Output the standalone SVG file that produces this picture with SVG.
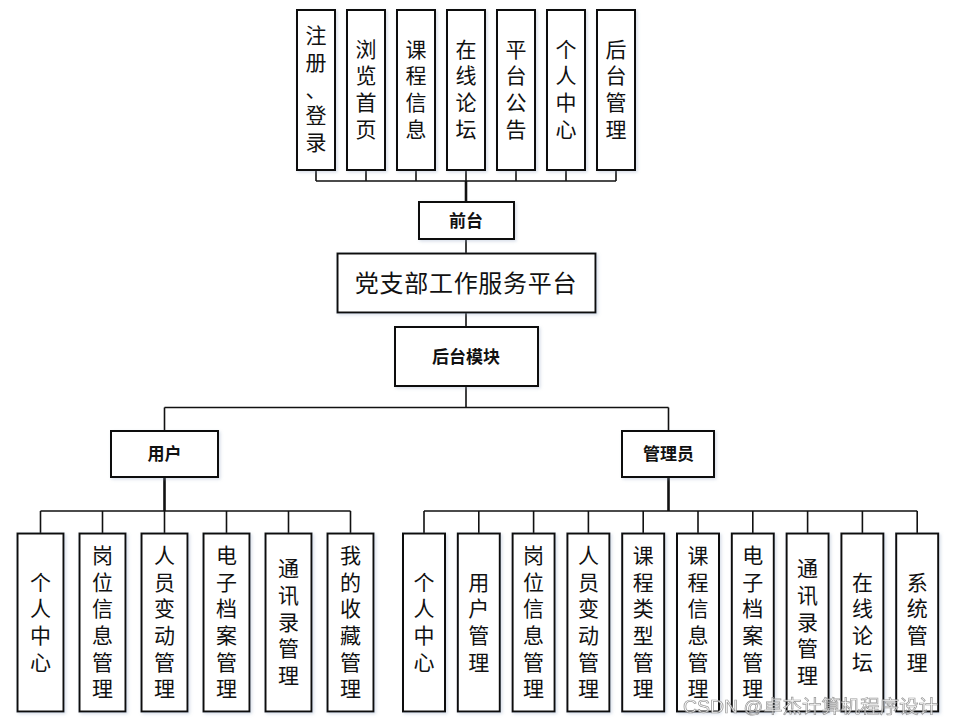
<svg xmlns="http://www.w3.org/2000/svg" width="954" height="724" viewBox="0 0 954 724">
<defs>
<filter id="sh" x="-20%" y="-20%" width="140%" height="140%">
<feDropShadow dx="1.5" dy="1.5" stdDeviation="1.5" flood-color="#8fa3c0" flood-opacity="0.35"/>
</filter>
</defs>
<style>
.box{fill:#fff;stroke:#111;stroke-width:2;filter:url(#sh)}
.ln{fill:none;stroke:#111;stroke-width:1.6}
.tk{fill:none;stroke:#111;stroke-width:2.6}
.t{font-family:"Noto Sans CJK SC","Noto Sans",sans-serif;font-size:21px;fill:#111;text-anchor:middle}
.h{font-family:"Noto Sans CJK SC","Noto Sans",sans-serif;font-size:17px;font-weight:bold;fill:#111;text-anchor:middle}
.m{font-family:"Noto Sans CJK SC","Noto Sans",sans-serif;font-size:24px;fill:#111;text-anchor:middle;letter-spacing:0.7px}
.wm{font-family:"Liberation Sans","Noto Sans CJK SC",sans-serif;font-size:18px;fill:#fff;stroke:#888;stroke-width:0.7;opacity:0.85}
</style>
<rect width="954" height="724" fill="#fff"/>
<g id="connectors">
<path class="ln" d="M316,170V181M366,170V181M416,170V181M466,170V181M516,170V181M566,170V181M616,170V181M316,181H616"/>
<path class="tk" d="M466,181V202"/>
<path class="ln" d="M466,239V253.5M466,312.5V327M466,386V407.5M164.5,407.5H668.5M164.5,407.5V431M668.5,407.5V431"/>
<path class="tk" d="M164.5,477V511M668.5,477V511"/>
<path class="ln" d="M40.5,511H350.5M40.5,511V533.5M102.5,511V533.5M164.5,511V533.5M226.5,511V533.5M288.5,511V533.5M350.5,511V533.5"/>
<path class="ln" d="M424,511H917.2M424,511V533.5M478.8,511V533.5M533.6,511V533.5M588.4,511V533.5M643.2,511V533.5M698,511V533.5M752.8,511V533.5M807.6,511V533.5M862.4,511V533.5M917.2,511V533.5"/>
</g>
<g id="f1"><rect class="box" x="297" y="10" width="38" height="160"/><text class="t"><tspan x="316" y="43.1">注</tspan><tspan x="316" dy="26.7">册</tspan><tspan x="316" dy="26.7">、</tspan><tspan x="316" dy="26.7">登</tspan><tspan x="316" dy="26.7">录</tspan></text></g>
<g id="f2"><rect class="box" x="347" y="10" width="38" height="160"/><text class="t"><tspan x="366" y="56.5">浏</tspan><tspan x="366" dy="26.7">览</tspan><tspan x="366" dy="26.7">首</tspan><tspan x="366" dy="26.7">页</tspan></text></g>
<g id="f3"><rect class="box" x="397" y="10" width="38" height="160"/><text class="t"><tspan x="416" y="56.5">课</tspan><tspan x="416" dy="26.7">程</tspan><tspan x="416" dy="26.7">信</tspan><tspan x="416" dy="26.7">息</tspan></text></g>
<g id="f4"><rect class="box" x="447" y="10" width="38" height="160"/><text class="t"><tspan x="466" y="56.5">在</tspan><tspan x="466" dy="26.7">线</tspan><tspan x="466" dy="26.7">论</tspan><tspan x="466" dy="26.7">坛</tspan></text></g>
<g id="f5"><rect class="box" x="497" y="10" width="38" height="160"/><text class="t"><tspan x="516" y="56.5">平</tspan><tspan x="516" dy="26.7">台</tspan><tspan x="516" dy="26.7">公</tspan><tspan x="516" dy="26.7">告</tspan></text></g>
<g id="f6"><rect class="box" x="547" y="10" width="38" height="160"/><text class="t"><tspan x="566" y="56.5">个</tspan><tspan x="566" dy="26.7">人</tspan><tspan x="566" dy="26.7">中</tspan><tspan x="566" dy="26.7">心</tspan></text></g>
<g id="f7"><rect class="box" x="597" y="10" width="38" height="160"/><text class="t"><tspan x="616" y="56.5">后</tspan><tspan x="616" dy="26.7">台</tspan><tspan x="616" dy="26.7">管</tspan><tspan x="616" dy="26.7">理</tspan></text></g>
<g id="qiantai"><rect class="box" x="419" y="202" width="95" height="37"/><text class="h" x="466" y="226.5">前台</text></g>
<g id="main"><rect class="box" x="337.5" y="253.5" width="258" height="59"/><text class="m" x="466" y="291.5">党支部工作服务平台</text></g>
<g id="houtai"><rect class="box" x="395" y="327" width="143" height="59"/><text class="h" x="466" y="362.5">后台模块</text></g>
<g id="user"><rect class="box" x="111" y="431" width="107" height="46"/><text class="h" x="164.5" y="460">用户</text></g>
<g id="admin"><rect class="box" x="622" y="431" width="92" height="46"/><text class="h" x="668.5" y="460">管理员</text></g>
<g id="u1"><rect class="box" x="17.5" y="533.5" width="46" height="178"/><text class="t"><tspan x="40.5" y="589.5">个</tspan><tspan x="40.5" dy="26.7">人</tspan><tspan x="40.5" dy="26.7">中</tspan><tspan x="40.5" dy="26.7">心</tspan></text></g>
<g id="u2"><rect class="box" x="79.5" y="533.5" width="46" height="178"/><text class="t"><tspan x="102.5" y="562.8">岗</tspan><tspan x="102.5" dy="26.7">位</tspan><tspan x="102.5" dy="26.7">信</tspan><tspan x="102.5" dy="26.7">息</tspan><tspan x="102.5" dy="26.7">管</tspan><tspan x="102.5" dy="26.7">理</tspan></text></g>
<g id="u3"><rect class="box" x="141.5" y="533.5" width="46" height="178"/><text class="t"><tspan x="164.5" y="562.8">人</tspan><tspan x="164.5" dy="26.7">员</tspan><tspan x="164.5" dy="26.7">变</tspan><tspan x="164.5" dy="26.7">动</tspan><tspan x="164.5" dy="26.7">管</tspan><tspan x="164.5" dy="26.7">理</tspan></text></g>
<g id="u4"><rect class="box" x="203.5" y="533.5" width="46" height="178"/><text class="t"><tspan x="226.5" y="562.8">电</tspan><tspan x="226.5" dy="26.7">子</tspan><tspan x="226.5" dy="26.7">档</tspan><tspan x="226.5" dy="26.7">案</tspan><tspan x="226.5" dy="26.7">管</tspan><tspan x="226.5" dy="26.7">理</tspan></text></g>
<g id="u5"><rect class="box" x="265.5" y="533.5" width="46" height="178"/><text class="t"><tspan x="288.5" y="576.1">通</tspan><tspan x="288.5" dy="26.7">讯</tspan><tspan x="288.5" dy="26.7">录</tspan><tspan x="288.5" dy="26.7">管</tspan><tspan x="288.5" dy="26.7">理</tspan></text></g>
<g id="u6"><rect class="box" x="327.5" y="533.5" width="46" height="178"/><text class="t"><tspan x="350.5" y="562.8">我</tspan><tspan x="350.5" dy="26.7">的</tspan><tspan x="350.5" dy="26.7">收</tspan><tspan x="350.5" dy="26.7">藏</tspan><tspan x="350.5" dy="26.7">管</tspan><tspan x="350.5" dy="26.7">理</tspan></text></g>
<g id="a1"><rect class="box" x="403" y="533.5" width="42" height="178"/><text class="t"><tspan x="424" y="589.5">个</tspan><tspan x="424" dy="26.7">人</tspan><tspan x="424" dy="26.7">中</tspan><tspan x="424" dy="26.7">心</tspan></text></g>
<g id="a2"><rect class="box" x="457.8" y="533.5" width="42" height="178"/><text class="t"><tspan x="478.8" y="589.5">用</tspan><tspan x="478.8" dy="26.7">户</tspan><tspan x="478.8" dy="26.7">管</tspan><tspan x="478.8" dy="26.7">理</tspan></text></g>
<g id="a3"><rect class="box" x="512.6" y="533.5" width="42" height="178"/><text class="t"><tspan x="533.6" y="562.8">岗</tspan><tspan x="533.6" dy="26.7">位</tspan><tspan x="533.6" dy="26.7">信</tspan><tspan x="533.6" dy="26.7">息</tspan><tspan x="533.6" dy="26.7">管</tspan><tspan x="533.6" dy="26.7">理</tspan></text></g>
<g id="a4"><rect class="box" x="567.4" y="533.5" width="42" height="178"/><text class="t"><tspan x="588.4" y="562.8">人</tspan><tspan x="588.4" dy="26.7">员</tspan><tspan x="588.4" dy="26.7">变</tspan><tspan x="588.4" dy="26.7">动</tspan><tspan x="588.4" dy="26.7">管</tspan><tspan x="588.4" dy="26.7">理</tspan></text></g>
<g id="a5"><rect class="box" x="622.2" y="533.5" width="42" height="178"/><text class="t"><tspan x="643.2" y="562.8">课</tspan><tspan x="643.2" dy="26.7">程</tspan><tspan x="643.2" dy="26.7">类</tspan><tspan x="643.2" dy="26.7">型</tspan><tspan x="643.2" dy="26.7">管</tspan><tspan x="643.2" dy="26.7">理</tspan></text></g>
<g id="a6"><rect class="box" x="677" y="533.5" width="42" height="178"/><text class="t"><tspan x="698" y="562.8">课</tspan><tspan x="698" dy="26.7">程</tspan><tspan x="698" dy="26.7">信</tspan><tspan x="698" dy="26.7">息</tspan><tspan x="698" dy="26.7">管</tspan><tspan x="698" dy="26.7">理</tspan></text></g>
<g id="a7"><rect class="box" x="731.8" y="533.5" width="42" height="178"/><text class="t"><tspan x="752.8" y="562.8">电</tspan><tspan x="752.8" dy="26.7">子</tspan><tspan x="752.8" dy="26.7">档</tspan><tspan x="752.8" dy="26.7">案</tspan><tspan x="752.8" dy="26.7">管</tspan><tspan x="752.8" dy="26.7">理</tspan></text></g>
<g id="a8"><rect class="box" x="786.6" y="533.5" width="42" height="178"/><text class="t"><tspan x="807.6" y="576.1">通</tspan><tspan x="807.6" dy="26.7">讯</tspan><tspan x="807.6" dy="26.7">录</tspan><tspan x="807.6" dy="26.7">管</tspan><tspan x="807.6" dy="26.7">理</tspan></text></g>
<g id="a9"><rect class="box" x="841.4" y="533.5" width="42" height="178"/><text class="t"><tspan x="862.4" y="589.5">在</tspan><tspan x="862.4" dy="26.7">线</tspan><tspan x="862.4" dy="26.7">论</tspan><tspan x="862.4" dy="26.7">坛</tspan></text></g>
<g id="a10"><rect class="box" x="896.2" y="533.5" width="42" height="178"/><text class="t"><tspan x="917.2" y="589.5">系</tspan><tspan x="917.2" dy="26.7">统</tspan><tspan x="917.2" dy="26.7">管</tspan><tspan x="917.2" dy="26.7">理</tspan></text></g>
<text class="wm" x="683" y="713" textLength="255" lengthAdjust="spacingAndGlyphs">CSDN @卓杰计算机程序设计</text>
</svg>
